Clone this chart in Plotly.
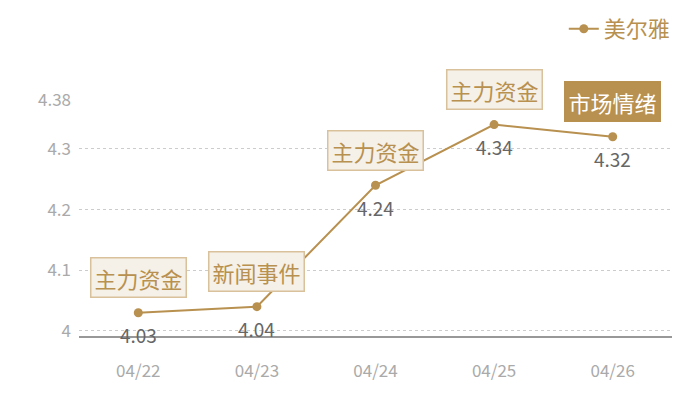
import plotly.graph_objects as go

dates = ["04/22", "04/23", "04/24", "04/25", "04/26"]
values = [4.03, 4.04, 4.24, 4.34, 4.32]
events = ["主力资金", "新闻事件", "主力资金", "主力资金", "市场情绪"]
highlight = [False, False, False, False, True]
tick_vals = [4, 4.1, 4.2, 4.3, 4.38]
tick_text = ["4", "4.1", "4.2", "4.3", "4.38"]

gold = "#b8904f"
font_family = "Noto Sans CJK SC, Noto Sans, sans-serif"

fig = go.Figure()
fig.add_trace(go.Scatter(
    x=dates, y=values, mode="lines+markers", name="美尔雅",
    line=dict(color=gold, width=2),
    marker=dict(color=gold, size=9),
    cliponaxis=False,
))

for d, v in zip(dates, values):
    fig.add_annotation(
        x=d, y=v, text=f"{v:.2f}", showarrow=False, yshift=-22,
        font=dict(size=19, color="#666666", family=font_family),
    )

for d, v, e, h in zip(dates, values, events, highlight):
    fig.add_annotation(
        x=d, y=v, text=e, showarrow=False, yshift=35,
        font=dict(size=22, color="#ffffff" if h else gold, family=font_family),
        bgcolor=gold if h else "#f5f0e8",
        bordercolor="#d9c19c" if not h else gold,
        borderwidth=1.5, borderpad=3,
    )

fig.update_layout(
    width=700, height=400,
    margin=dict(l=71, r=36, t=92, b=71, autoexpand=False),
    paper_bgcolor="white", plot_bgcolor="white",
    font=dict(family=font_family),
    showlegend=True,
    legend=dict(xref="container", yref="container", x=0.794, y=1.0,
                xanchor="left", yanchor="top",
                font=dict(size=22, color=gold), bgcolor="rgba(0,0,0,0)",
                itemwidth=30),
    xaxis=dict(range=[-0.5, 4.5], showgrid=False, showline=False, ticks="",
               zeroline=False,
               tickfont=dict(size=17, color="#aaaaaa"), ticklabelstandoff=22),
    yaxis=dict(range=[3.99, 4.3805], tickvals=tick_vals, ticktext=tick_text,
               showgrid=True, gridcolor="#cccccc", griddash="dot", gridwidth=1,
               zeroline=False, showline=False, ticks="",
               tickfont=dict(size=17, color="#aaaaaa"), ticklabelstandoff=7),
)
fig.add_shape(type="line", xref="paper", yref="paper", x0=0, x1=1, y0=0, y1=0,
              line=dict(color="#333333", width=1.2))

fig.write_html("out.html")
